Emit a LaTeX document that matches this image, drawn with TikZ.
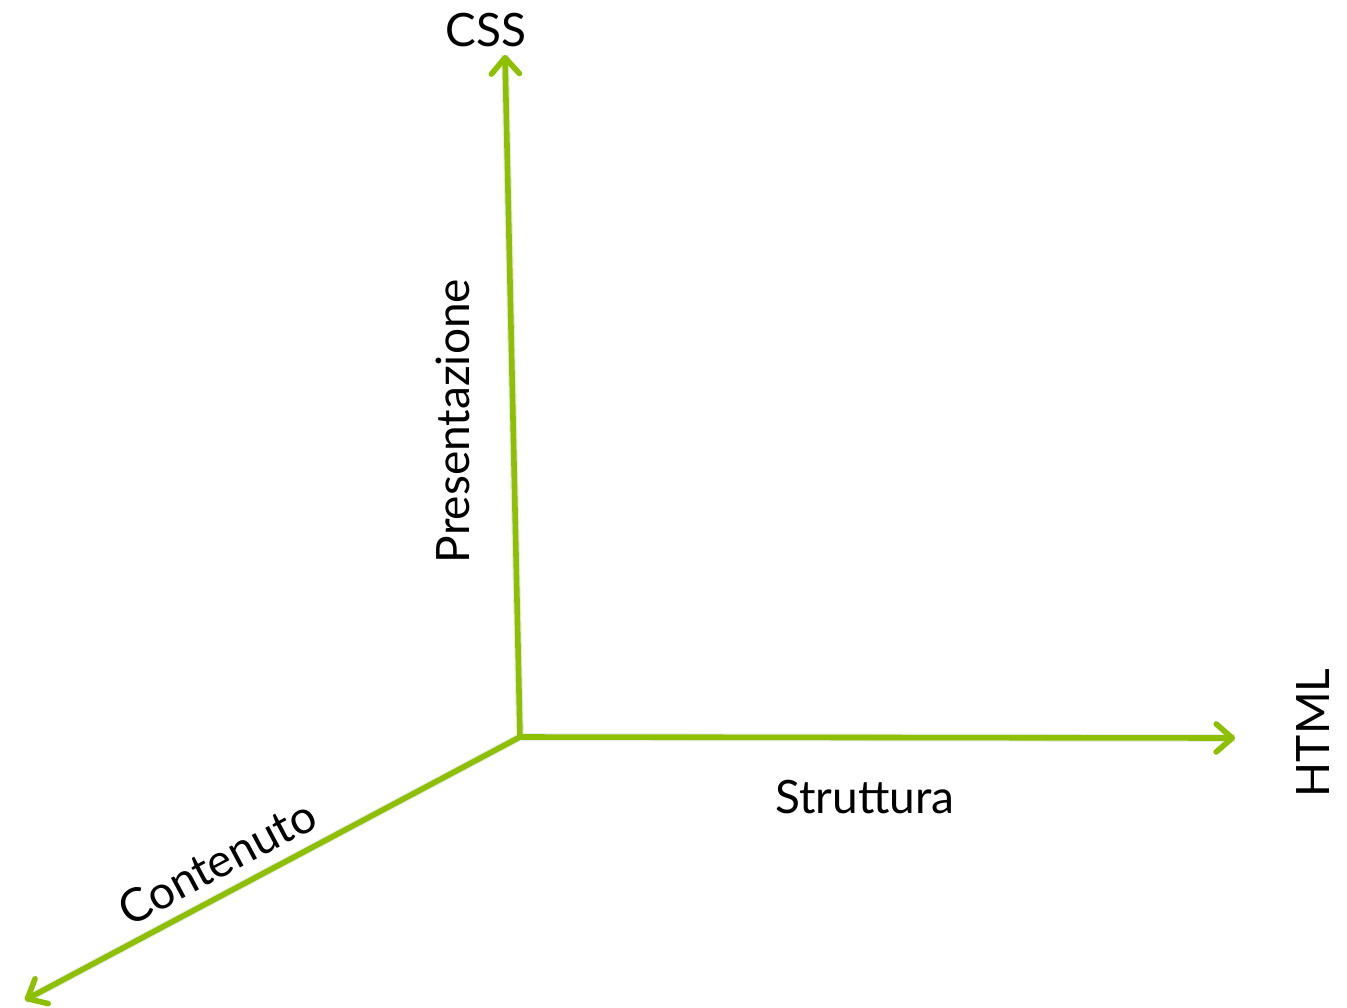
\documentclass[tikz,border=0pt]{standalone}
\usepackage{fontspec}
\setmainfont{Lato}
\usetikzlibrary{arrows.meta,positioning}

\definecolor{axisgreen}{HTML}{8CC000}

\begin{document}
\begin{tikzpicture}[x=0.5pt,y=-0.5pt,
    barb/.tip={Straight Barb[round,length=8pt,width=14pt]},
    axis/.style={draw=axisgreen,line width=2.8pt,line join=miter},
    shade/.style={draw=black,opacity=0.08,line width=4pt,line join=miter},
    lbl/.style={font=\fontsize{23}{27}\selectfont,inner sep=0pt}]
   \useasboundingbox (0,0) rectangle (1347,1007);

   \coordinate (o)    at (520,737);
   \coordinate (css)  at (505,55);
   \coordinate (html) at (1235,738);
   \coordinate (cont) at (25,1000);

   % soft shadow under the axes
   \begin{scope}[shift={(1,5)}]
    \path[shade] (css) -- (o) -- (html) (o) -- (cont);
   \end{scope}

   \draw[axis,line cap=round,-barb] (o) -- (cont);
   \draw[axis,barb-barb] (css) -- (o) -- (html);

   \node[lbl] (tcss)  at (486,30)  {CSS};
   \node[lbl,rotate=90] (thtml) at (1313,733) {HTML};
   \node[lbl,rotate=90] (tpres) at (453,421)  {Presentazione};
   \node[lbl] (tstru) at (865,797) {Struttura};
   \node[lbl,rotate=28] (tcont) at (217,862) {Contenuto};
\end{tikzpicture}
\end{document}
